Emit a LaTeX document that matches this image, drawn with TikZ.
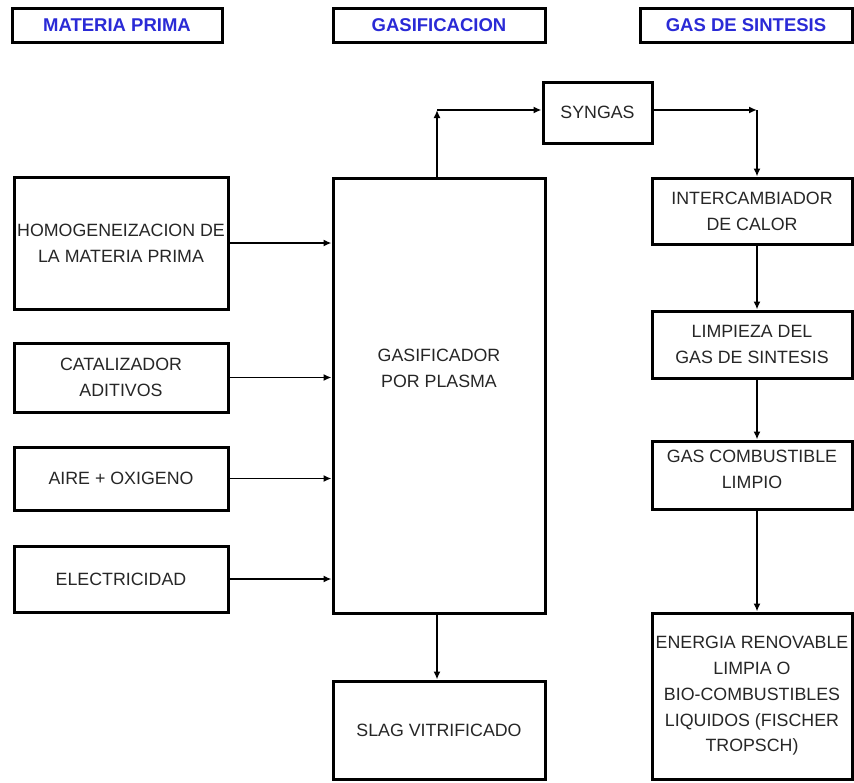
\documentclass[tikz,border=0pt]{standalone}
\usepackage{fontspec}
\setmainfont{Liberation Sans}
\usetikzlibrary{arrows.meta}

\tikzstyle{stage-box}=[draw, line width=3pt, inner sep=0pt, align=center, text=Label, font=\fontsize{17.8}{25.8}\selectfont]
\tikzstyle{head-box}=[draw, line width=3pt, inner sep=0pt, text=Head, font=\fontsize{18.5}{20}\selectfont\bfseries]
\tikzstyle{flow}=[line width=1.6pt, -{Latex[length=8pt,width=7pt]}]
\definecolor{Head}{HTML}{2A2AD6}
\definecolor{Label}{HTML}{262626}

\begin{document}
\begin{tikzpicture}[x=1pt, y=-1pt]
      \useasboundingbox (0,0) rectangle (854,782);
      % column titles
      \node (head-1) at (117,25) [head-box, minimum width=210pt, minimum height=34pt] {MATERIA PRIMA};
      \node (head-2) at (439,25) [head-box, minimum width=212pt, minimum height=34pt] {GASIFICACION};
      \node (head-3) at (746,25) [head-box, minimum width=212pt, minimum height=34pt] {GAS DE SINTESIS};

      % raw material
      \node (in-1) at (121,243) [stage-box, minimum width=214pt, minimum height=132pt] {HOMOGENEIZACION DE\\LA MATERIA PRIMA};
      \node (in-2) at (121,377.5) [stage-box, minimum width=214pt, minimum height=69pt] {CATALIZADOR\\ADITIVOS};
      \node (in-3) at (121,478.5) [stage-box, minimum width=214pt, minimum height=63pt] {AIRE + OXIGENO};
      \node (in-4) at (121,579) [stage-box, minimum width=214pt, minimum height=66pt] {ELECTRICIDAD};

      % gasification
      \node (gas) at (439,395.5) [stage-box, minimum width=212pt, minimum height=435pt, label={[stage-box, draw=none, yshift=27pt]center:{GASIFICADOR\\POR PLASMA}}] {};
      \node (slag) at (439,730) [stage-box, minimum width=212pt, minimum height=98pt] {SLAG VITRIFICADO};
      \node (syngas) at (597.5,112.5) [stage-box, minimum width=109pt, minimum height=61pt] {SYNGAS};

      % synthesis gas
      \node (out-1) at (752,211) [stage-box, minimum width=200pt, minimum height=66pt] {INTERCAMBIADOR\\DE CALOR};
      \node (out-2) at (752,344.5) [stage-box, minimum width=200pt, minimum height=67pt] {LIMPIEZA DEL\\GAS DE SINTESIS};
      \node (out-3) at (752,475) [stage-box, minimum width=200pt, minimum height=68pt, label={[stage-box, draw=none, yshift=6pt]center:{GAS COMBUSTIBLE\\LIMPIO}}] {};
      \node (out-4) at (752,696) [stage-box, minimum width=200pt, minimum height=166pt] {ENERGIA RENOVABLE\\LIMPIA O\\BIO-COMBUSTIBLES\\LIQUIDOS (FISCHER\\TROPSCH)};

      \coordinate (turn-1) at (437,110);
      \coordinate (turn-2) at (757,110);

      \foreach \i in {1,...,4}
        \draw[flow] (in-\i.east) -- (in-\i.east -| gas.west);
      \draw[flow] (gas.north -| turn-1) -- (turn-1);
      \draw[flow] (turn-1) -- (syngas.west |- turn-1);
      \draw[flow] (syngas.east |- turn-2) -- (turn-2);
      \draw[flow] (turn-2) -- (out-1.north -| turn-2);
      \draw[flow] (out-1.south -| turn-2) -- (out-2.north -| turn-2);
      \draw[flow] (out-2.south -| turn-2) -- (out-3.north -| turn-2);
      \draw[flow] (out-3.south -| turn-2) -- (out-4.north -| turn-2);
      \draw[flow] (gas.south -| turn-1) -- (slag.north -| turn-1);
    \end{tikzpicture}
\end{document}
